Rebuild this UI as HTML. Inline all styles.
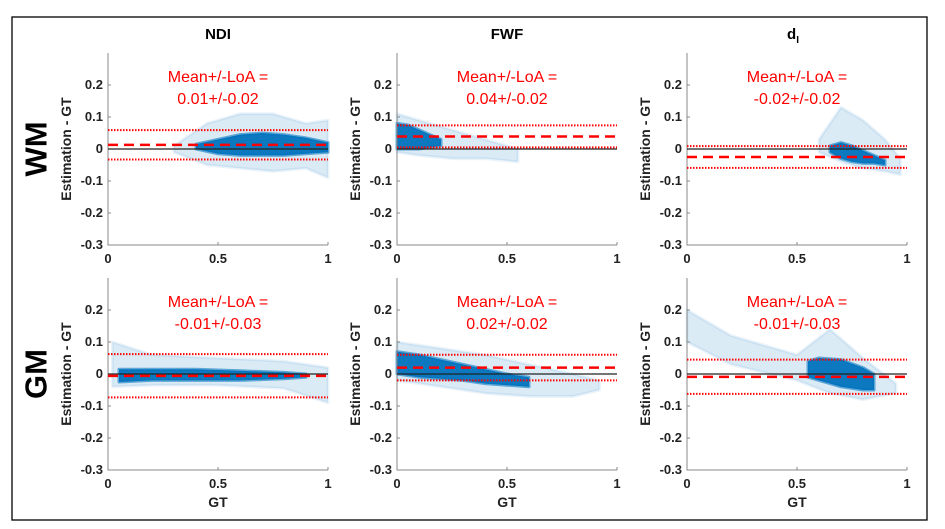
<!DOCTYPE html>
<html><head><meta charset="utf-8"><style>
body{margin:0;background:#fff;font-family:"Liberation Sans",sans-serif}
svg{display:block}
</style></head><body>
<svg id="fig" width="945" height="529" xmlns="http://www.w3.org/2000/svg">
<rect x="12" y="17" width="915" height="503" fill="none" stroke="#000" stroke-width="1.3"/>
<text x="36" y="149" transform="rotate(-90 36 149)" text-anchor="middle" dominant-baseline="central" font-size="31" font-weight="bold">WM</text>
<text x="36" y="374" transform="rotate(-90 36 374)" text-anchor="middle" dominant-baseline="central" font-size="31" font-weight="bold">GM</text>
<text x="218" y="39" text-anchor="middle" font-size="15" font-weight="bold">NDI</text>
<text x="507" y="39" text-anchor="middle" font-size="15" font-weight="bold">FWF</text>
<text x="793" y="39" text-anchor="middle" font-size="15" font-weight="bold">d<tspan font-size="10" dy="4">I</tspan></text>
</svg>
<script>
const panelNames = ['wm-ndi','wm-fwf','wm-di','gm-ndi','gm-fwf','gm-di'];
const meanVals = [0.013, 0.039, -0.025, -0.006, 0.02, -0.009];
const upperLoA = [0.059, 0.074, 0.009, 0.062, 0.06, 0.045];
const lowerLoA = [-0.033, 0.005, -0.059, -0.073, -0.02, -0.062];
const annotMean = ['0.01','0.04','-0.02','-0.01','0.02','-0.01'];
const annotLoA = ['0.02','0.02','0.02','0.03','0.02','0.03'];
const xTicks = [0, 0.5, 1];
const xTickLabels = ['0','0.5','1'];
const yTicks = [0.2, 0.1, 0, -0.1, -0.2, -0.3];
const yTickLabels = ['0.2','0.1','0','-0.1','-0.2','-0.3'];
// dense cloud bands: gt, low, high per panel
const denseGT = [[0.4,0.5,0.6,0.7,0.8,0.9,1.0],[0,0.05,0.1,0.15,0.2],[0.65,0.7,0.75,0.8,0.85,0.9],[0.05,0.2,0.4,0.6,0.8,0.9],[0,0.1,0.2,0.3,0.4,0.5,0.6],[0.55,0.6,0.7,0.8,0.85]];
const denseLo = [[0.0,-0.015,-0.02,-0.02,-0.02,-0.015,-0.01],[0.0,0.0,0.0,0.005,0.01],[-0.01,-0.03,-0.04,-0.045,-0.045,-0.05],[-0.025,-0.02,-0.02,-0.02,-0.015,-0.01],[0.0,-0.01,-0.015,-0.02,-0.03,-0.035,-0.04],[-0.01,-0.02,-0.04,-0.05,-0.05]];
const denseHi = [[0.015,0.03,0.045,0.05,0.045,0.035,0.02],[0.08,0.075,0.06,0.045,0.03],[0.01,0.02,0.01,-0.005,-0.02,-0.035],[0.015,0.015,0.015,0.01,0.005,0.0],[0.07,0.06,0.045,0.03,0.015,0.0,-0.01],[0.04,0.05,0.045,0.02,0.0]];
// sparse outer cloud bands
const sparseGT = [[0.3,0.45,0.6,0.75,0.9,1.0],[0,0.1,0.25,0.4,0.55],[0.6,0.7,0.8,0.9,0.97],[0.02,0.2,0.5,0.8,1.0],[0,0.2,0.4,0.6,0.8,0.92],[0,0.2,0.5,0.65,0.8,0.95]];
const sparseLo = [[-0.01,-0.05,-0.06,-0.07,-0.06,-0.09],[-0.01,-0.02,-0.03,-0.03,-0.04],[-0.01,-0.04,-0.06,-0.07,-0.08],[-0.04,-0.035,-0.035,-0.045,-0.09],[-0.02,-0.04,-0.06,-0.07,-0.07,-0.05],[0.1,0.03,-0.02,-0.06,-0.08,-0.06]];
const sparseHi = [[0.01,0.08,0.11,0.11,0.08,0.09],[0.11,0.09,0.06,0.03,0.0],[0.03,0.13,0.09,0.03,-0.03],[0.1,0.06,0.05,0.04,0.02],[0.1,0.08,0.06,0.03,0.0,-0.02],[0.2,0.12,0.06,0.14,0.05,-0.03]];

const colX = [108, 397, 687], rowY = [53, 278];
const W = 220, H = 192, Y0 = -0.3, Y1 = 0.3;
const svg = document.getElementById('fig');
const NS = 'http://www.w3.org/2000/svg';
function mk(tag, attrs, parent){const e=document.createElementNS(NS,tag);for(const k in attrs)e.setAttribute(k,attrs[k]);(parent||svg).appendChild(e);return e;}

panelNames.forEach((name, i) => {
  const ox = colX[i%3], oy = rowY[Math.floor(i/3)];
  const sx = v => ox + v*W;
  const sy = v => oy + (Y1 - v)/(Y1 - Y0)*H;
  const g = mk('g', {});
  
  
  function band(gt, lo, hi, op, nm){
    let pts = gt.map((x,k)=>sx(x)+','+sy(hi[k]));
    pts = pts.concat(gt.map((x,k)=>sx(x)+','+sy(lo[k])).reverse());
    const p = mk('polygon', {points: pts.join(' '), fill:'#0072bd', 'fill-opacity':op, stroke:'#0072bd','stroke-opacity':op*0.6,'stroke-width':3,'stroke-linejoin':'round'}, g);
    
    
  }
  band(sparseGT[i], sparseLo[i], sparseHi[i], 0.14, 'sparse-scatter-cloud');
  band(denseGT[i], denseLo[i], denseHi[i], 0.95, 'dense-scatter-cloud');
  const ax = mk('path', {d:`M${ox},${oy} V${oy+H} H${ox+W}`, fill:'none', stroke:'#888', 'stroke-width':1}, g);
  
  
  yTicks.forEach((t,k)=>{
    mk('line',{x1:ox,x2:ox+3,y1:sy(t),y2:sy(t),stroke:'#888'},g);
    const tx = mk('text',{x:ox-5,y:sy(t)+4,'text-anchor':'end','font-size':13,'font-weight':'bold',fill:'#222'},g);
    tx.textContent = yTickLabels[k];
    
    
  });
  xTicks.forEach((t,k)=>{
    mk('line',{x1:sx(t),x2:sx(t),y1:oy+H,y2:oy+H-3,stroke:'#888'},g);
    const tx = mk('text',{x:sx(t),y:oy+H+18,'text-anchor':'middle','font-size':13,'font-weight':'bold',fill:'#222'},g);
    tx.textContent = xTickLabels[k];
    
    
  });
  const yt = mk('text',{x:ox-37,y:oy+H/2,transform:`rotate(-90 ${ox-37} ${oy+H/2})`,'text-anchor':'middle','font-size':14,'font-weight':'bold',fill:'#222'},g);
  yt.textContent = 'Estimation - GT';
  
  
  if (i >= 3) {
    const xt = mk('text',{x:ox+W/2,y:oy+H+37,'text-anchor':'middle','font-size':14,'font-weight':'bold',fill:'#222'},g);
    xt.textContent = 'GT';
    
    
  }
  const z = mk('line',{x1:ox,x2:ox+W,y1:sy(0),y2:sy(0),stroke:'#222','stroke-width':1.2},g);
  
  
  [upperLoA[i], lowerLoA[i]].forEach(v=>{
    const l = mk('line',{x1:ox,x2:ox+W,y1:sy(v),y2:sy(v),stroke:'#f00','stroke-width':2,'stroke-dasharray':'1.5 1.5'},g);
    
    
  });
  const m = mk('line',{x1:ox,x2:ox+W,y1:sy(meanVals[i]),y2:sy(meanVals[i]),stroke:'#f00','stroke-width':2.5,'stroke-dasharray':'10 6'},g);
  
  
  const a1 = mk('text',{x:ox+110,y:oy+29,'text-anchor':'middle','font-size':16,fill:'#f00'},g);
  a1.textContent = 'Mean+/-LoA =';
  
  
  const a2 = mk('text',{x:ox+110,y:oy+51,'text-anchor':'middle','font-size':16,fill:'#f00'},g);
  a2.textContent = annotMean[i] + '+/-' + annotLoA[i];
  
  
});
</script>
</body></html>
